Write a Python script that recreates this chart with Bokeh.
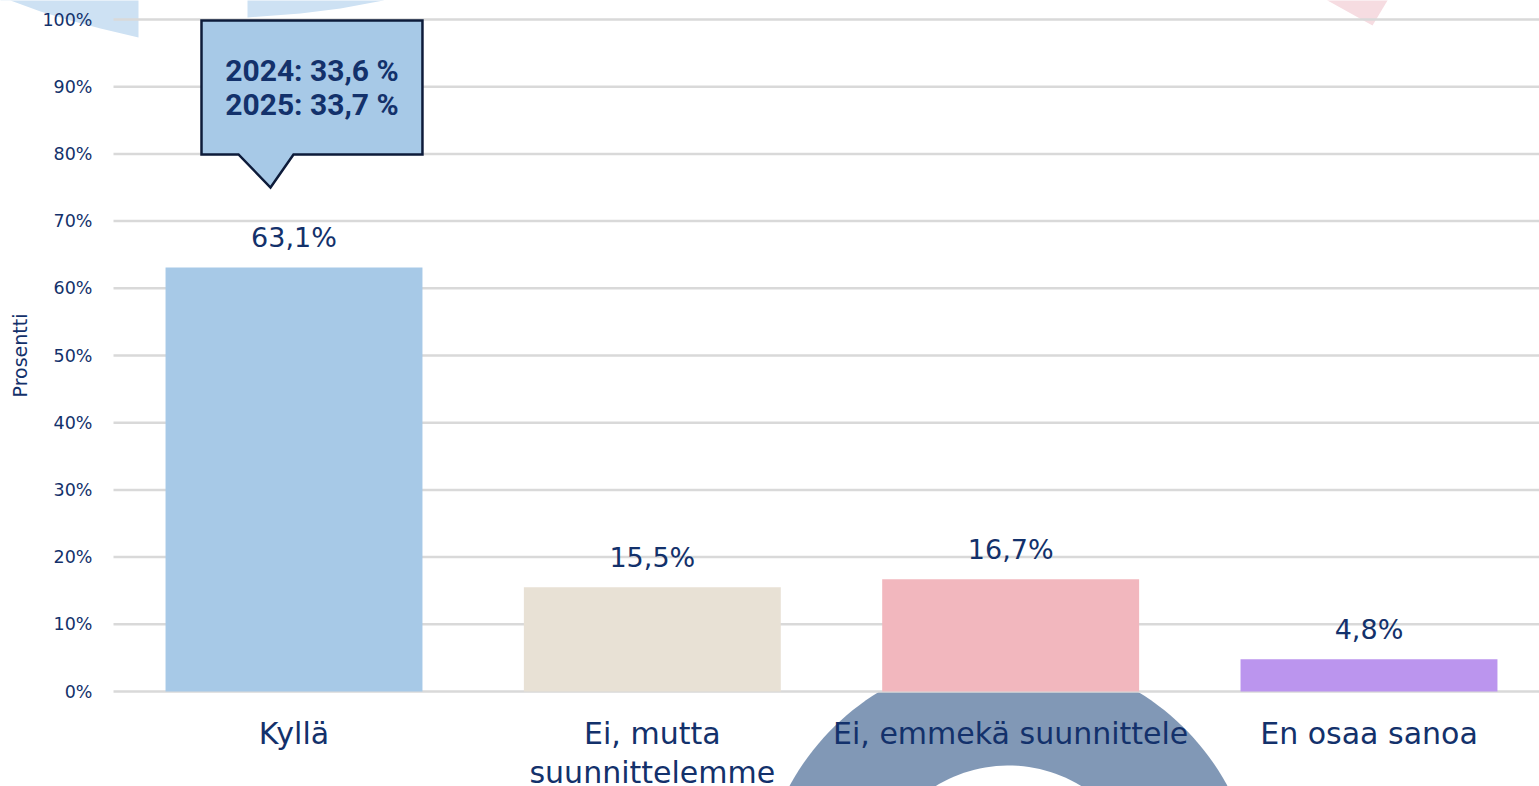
import numpy as np
from bokeh.plotting import figure
from bokeh.models import Range1d, FixedTicker, PolyAnnotation, ColumnDataSource
from bokeh.core.properties import value
from bokeh.embed import file_html
from bokeh.resources import INLINE

# ---------------- data ----------------
categories = ["Kyllä", "Ei, mutta\nsuunnittelemme", "Ei, emmekä suunnittele", "En osaa sanoa"]
percent = [63.1, 15.5, 16.7, 4.8]
value_labels = ["63,1%", "15,5%", "16,7%", "4,8%"]
bar_colors = ["#A7C9E7", "#E8E1D5", "#F2B7BE", "#BB95EE"]
y_ticks = [0, 10, 20, 30, 40, 50, 60, 70, 80, 90, 100]
y_tick_labels = ["0%", "10%", "20%", "30%", "40%", "50%", "60%", "70%", "80%", "90%", "100%"]
callout_lines = ["2024: 33,6 %", "2025: 33,7 %"]

# ---------------- layout / styling ----------------
W, H = 1539, 786
TEXT = "#13316B"
FONT = "DejaVu Sans"

# pixel mapping of the canvas (origin top-left of the figure)
CAT_PX = 358.33          # px per category
CAT0_PX = 293.5          # x of first category centre
PCT_PX = 6.72            # px per percent
ZERO_PX = 691.0          # y of 0 %
AXIS_X_PX = 113.0        # where the value axis / grid lines start


def px_x(x):
    return (np.asarray(x, dtype=float) - CAT0_PX) / CAT_PX


def px_y(y):
    return (ZERO_PX - np.asarray(y, dtype=float)) / PCT_PX


p = figure(width=W, height=H, output_backend="svg", toolbar_location=None,
           x_range=Range1d(float(px_x(0)), float(px_x(W))),
           y_range=Range1d(float(px_y(H)), float(px_y(0))),
           min_border_left=0, min_border_right=0, min_border_top=0, min_border_bottom=0)
p.outline_line_color = None
p.background_fill_color = "white"
p.border_fill_color = "white"
p.xgrid.visible = False
p.ygrid.visible = False

# ---------------- decorative background shapes ----------------
decos = []
lb = "#CDE1F3"
decos.append(PolyAnnotation(xs=list(px_x([-10, 138, 138, 100, 70, 40, 10, -10])),
                            ys=list(px_y([-10, -10, 37, 28, 20, 11, 0, 0])),
                            fill_color=lb, fill_alpha=1, line_color=None, level="underlay"))
decos.append(PolyAnnotation(xs=list(px_x([247, 390, 383, 340, 300, 247])),
                            ys=list(px_y([-10, -10, 0, 8, 13, 17])),
                            fill_color=lb, fill_alpha=1, line_color=None, level="underlay"))
decos.append(PolyAnnotation(xs=list(px_x([1320, 1392, 1387, 1372, 1327])),
                            ys=list(px_y([-10, -10, 0, 25, 0])),
                            fill_color="#F6DCE1", fill_alpha=1, line_color=None, level="underlay"))
cx, cy, R, r = 1008.0, 904.0, 249.0, 139.0
t1 = np.arcsin((cy - ZERO_PX) / R)
th = np.linspace(np.pi - t1, 2 * np.pi + t1, 160)
decos.append(PolyAnnotation(xs=list(px_x(cx + R * np.cos(th))), ys=list(px_y(cy - R * np.sin(th))),
                            fill_color="#8198B6", fill_alpha=1, line_color=None, level="underlay"))
th2 = np.linspace(0, 2 * np.pi, 160)
decos.append(PolyAnnotation(xs=list(px_x(cx + r * np.cos(th2))), ys=list(px_y(cy - r * np.sin(th2))),
                            fill_color="white", fill_alpha=1, line_color=None, level="underlay"))
p.center = decos + list(p.center)

# ---------------- grid lines (start at the value axis) ----------------
x_axis_pos = float(px_x(AXIS_X_PX))
n = len(y_ticks)
p.segment(x0=[x_axis_pos] * n, y0=y_ticks, x1=[float(px_x(W + 20))] * n, y1=y_ticks,
          line_color="#D9D9D9", line_width=2.5)

# ---------------- axes (fixed inside the full-canvas frame) ----------------
xs = list(range(len(categories)))
p.xaxis.fixed_location = 0
p.xaxis.ticker = FixedTicker(ticks=xs)
p.xaxis.major_label_overrides = {i: c for i, c in zip(xs, categories)}
p.xaxis.axis_line_color = None
p.xaxis.major_tick_line_color = None
p.xaxis.minor_tick_line_color = None
p.xaxis.major_label_text_font = FONT
p.xaxis.major_label_text_font_size = "30px"
p.xaxis.major_label_text_color = TEXT
p.xaxis.major_label_text_line_height = 1.12
p.xaxis.major_label_standoff = 18

p.yaxis.fixed_location = x_axis_pos
p.yaxis.bounds = (0, 100)
p.yaxis.ticker = FixedTicker(ticks=y_ticks)
p.yaxis.major_label_overrides = {t: l for t, l in zip(y_ticks, y_tick_labels)}
p.yaxis.axis_line_color = None
p.yaxis.major_tick_line_color = None
p.yaxis.minor_tick_line_color = None
p.yaxis.major_label_text_font = FONT
p.yaxis.major_label_text_font_size = "17.5px"
p.yaxis.major_label_text_color = TEXT
p.yaxis.major_label_standoff = 15
p.yaxis.axis_label = "Prosentti"
p.yaxis.axis_label_text_font = FONT
p.yaxis.axis_label_text_font_size = "19px"
p.yaxis.axis_label_text_font_style = "normal"
p.yaxis.axis_label_text_color = TEXT
p.yaxis.axis_label_standoff = 8

# ---------------- bars & labels ----------------
src = ColumnDataSource(dict(x=xs, top=percent, color=bar_colors, label=value_labels))
p.vbar(x="x", top="top", bottom=0, width=0.717, fill_color="color", line_color=None, source=src)
p.text(x="x", y="top", text="label", source=src, text_align="center", text_baseline="alphabetic",
       y_offset=-30, text_font=value(FONT), text_font_size="27px", text_color=TEXT)

# ---------------- callout ----------------
bx0, bx1 = float(px_x(201)), 0.717 / 2
by0, by1 = float(px_y(154)), float(px_y(20))
px0, px1, pax, pay = float(px_x(238)), float(px_x(293)), float(px_x(270)), float(px_y(187))
p.patch(x=[bx0, bx1, bx1, px1, pax, px0, bx0, bx0], y=[by1, by1, by0, by0, pay, by0, by0, by1],
        fill_color=bar_colors[0], line_color="#0D1B3A", line_width=2.5, line_join="miter")
cxm = (bx0 + bx1) / 2
p.text(x=[cxm, cxm], y=[float(px_y(70)), float(px_y(104))], text=callout_lines, text_align="center",
       text_baseline="alphabetic", text_font=value("Roboto"), text_font_style="bold",
       text_font_size="30px", text_color=TEXT)

open("out.html", "w").write(file_html(p, INLINE))
